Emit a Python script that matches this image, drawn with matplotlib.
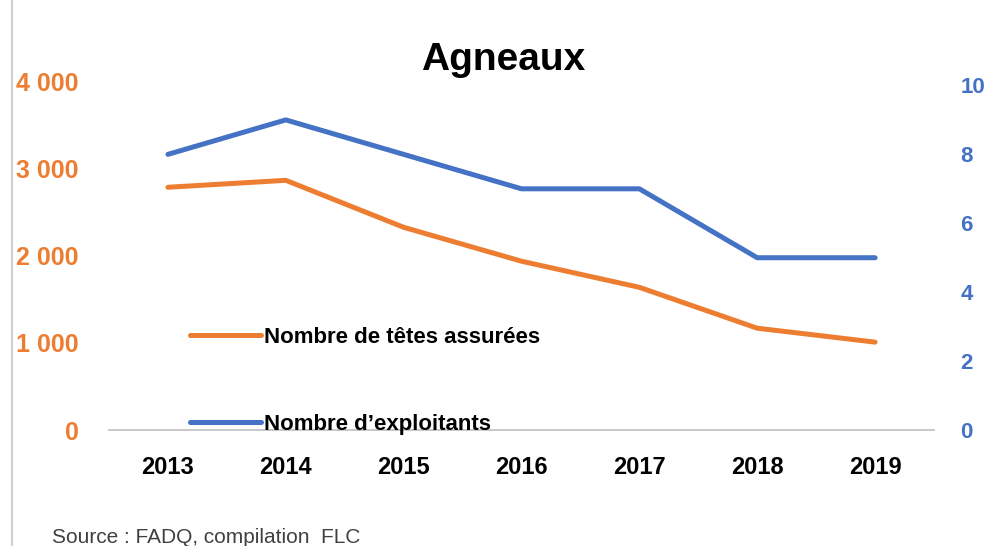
import matplotlib.pyplot as plt
from matplotlib.lines import Line2D

# --- Data ---
years = ["2013", "2014", "2015", "2016", "2017", "2018", "2019"]
tetes = [2790, 2870, 2330, 1940, 1640, 1170, 1010]
exploitants = [8, 9, 8, 7, 7, 5, 5]

left_ticks = [0, 1000, 2000, 3000, 4000]
left_labels = ["0", "1 000", "2 000", "3 000", "4 000"]
right_ticks = [0, 2, 4, 6, 8, 10]

orange = "#ED7D31"
blue = "#4472C4"

plt.rcParams['font.family'] = ['Liberation Sans', 'DejaVu Sans']

fig = plt.figure(figsize=(9.84, 5.46), dpi=100)
ax = fig.add_axes([109 / 984, 1 - 430 / 546, (934 - 109) / 984, (430 - 82) / 546])
ax2 = ax.twinx()

x = range(len(years))
ax.plot(x, tetes, color=orange, lw=3.6, solid_capstyle="round")
ax2.plot(x, exploitants, color=blue, lw=3.6, solid_capstyle="round")

ax.set_xlim(-0.5, len(years) - 0.5)
ax.set_ylim(0, 4000)
ax2.set_ylim(0, 10.1)

ax.set_xticks(list(x))
ax.set_xticklabels(years, fontsize=17, fontweight="bold")
ax.set_yticks(left_ticks)
ax.set_yticklabels(left_labels, fontsize=18, fontweight="bold", color=orange)
ax2.set_yticks(right_ticks)
ax2.set_yticklabels([str(t) for t in right_ticks], fontsize=16, fontweight="bold", color=blue)

ax.tick_params(axis="x", length=0, pad=19)
ax.tick_params(axis="y", length=0, pad=22)
ax2.tick_params(axis="y", length=0, pad=19)

for a in (ax, ax2):
    for s in ["top", "left", "right"]:
        a.spines[s].set_visible(False)
ax2.spines["bottom"].set_visible(False)
ax.spines["bottom"].set_color("#BFBFBF")
ax.spines["bottom"].set_linewidth(1.2)

# Title
fig.text(503 / 984, 1 - 60 / 546, "Agneaux", fontsize=28, fontweight="bold",
         ha="center", va="center")

# Legend
handles = [Line2D([], [], color=orange, lw=3.6, solid_capstyle="round"),
           Line2D([], [], color=blue, lw=3.6, solid_capstyle="round")]
ax.legend(handles, ["Nombre de têtes assurées", "Nombre d\u2019exploitants"],
          loc="upper left", bbox_to_anchor=(190 / 984, 1 - 327 / 546),
          bbox_transform=fig.transFigure, frameon=False,
          prop={"size": 16, "weight": "bold"}, labelspacing=2.95,
          handlelength=3.2, handletextpad=0.15, borderpad=0, borderaxespad=0)

# Source
fig.text(52 / 984, 1 - 543 / 546, "Source : FADQ, compilation  FLC", fontsize=15,
         color="#404040", ha="left", va="baseline")

# Left frame line
fig.add_artist(Line2D([12 / 984, 12 / 984], [0, 1], transform=fig.transFigure,
                      color="#D0D0D0", lw=1.5))

fig.savefig("out.png", dpi=100)
